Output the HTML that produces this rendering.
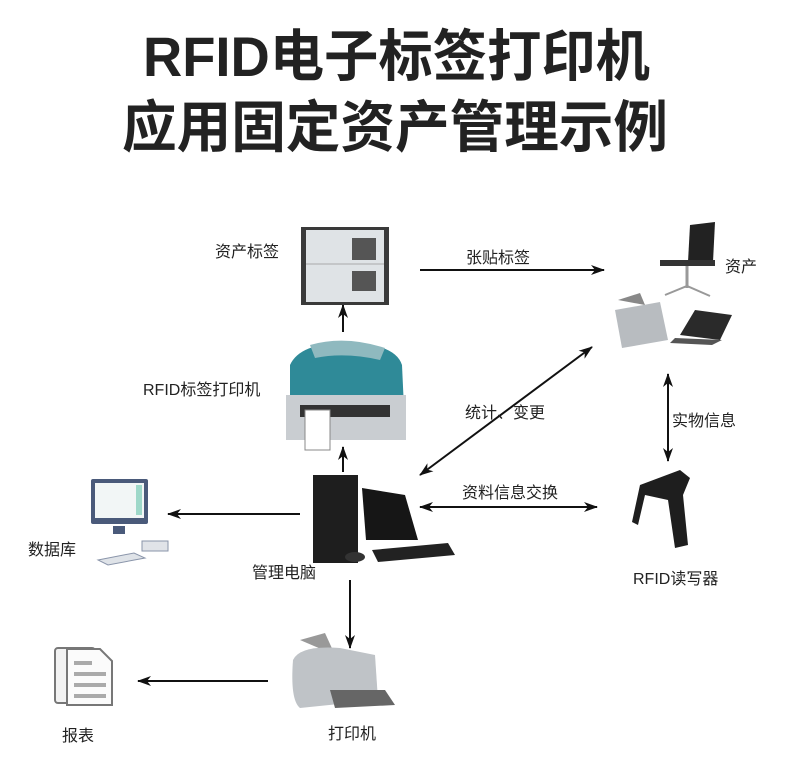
<!DOCTYPE html>
<html><head><meta charset="utf-8"><style>
html,body{margin:0;padding:0;background:#fff;}
svg{display:block}
text{font-family:"Liberation Sans","Noto Sans CJK SC",sans-serif;fill:#222}
</style></head><body>
<svg width="790" height="770" viewBox="0 0 790 770" xmlns="http://www.w3.org/2000/svg">
<defs>
<marker id="a" markerWidth="14" markerHeight="10" refX="13" refY="5" orient="auto-start-reverse" markerUnits="userSpaceOnUse">
<path d="M0,0 L14,5 L0,10 L4,5 Z" fill="#111"/></marker>
</defs>
<text x="143" y="76" font-size="56" font-weight="bold" textLength="507" lengthAdjust="spacingAndGlyphs" fill="#2a2a2a">RFID电子标签打印机</text>
<text x="122" y="147" font-size="56" font-weight="bold" textLength="546" lengthAdjust="spacingAndGlyphs" fill="#2a2a2a">应用固定资产管理示例</text>

<g stroke="#111" stroke-width="2" fill="none">
<line x1="343" y1="332" x2="343" y2="305" marker-end="url(#a)"/>
<line x1="420" y1="270" x2="604" y2="270" marker-end="url(#a)"/>
<line x1="420" y1="475" x2="592" y2="347" marker-start="url(#a)" marker-end="url(#a)"/>
<line x1="668" y1="374" x2="668" y2="461" marker-start="url(#a)" marker-end="url(#a)"/>
<line x1="420" y1="507" x2="597" y2="507" marker-start="url(#a)" marker-end="url(#a)"/>
<line x1="343" y1="472" x2="343" y2="447" marker-end="url(#a)"/>
<line x1="300" y1="514" x2="168" y2="514" marker-end="url(#a)"/>
<line x1="350" y1="580" x2="350" y2="648" marker-end="url(#a)"/>
<line x1="268" y1="681" x2="138" y2="681" marker-end="url(#a)"/>
</g>

<rect x="301" y="227" width="88" height="78" fill="#3a3a3a"/>
<rect x="306" y="230" width="78" height="72" fill="#dfe3e6"/>
<rect x="352" y="238" width="24" height="22" fill="#555"/>
<rect x="352" y="271" width="24" height="20" fill="#555"/>
<line x1="306" y1="264" x2="384" y2="264" stroke="#aaa"/>

<path d="M290 365 Q300 343 345 343 Q395 343 402 365 L405 430 L290 430 Z" fill="#2f8a98"/>
<path d="M310 345 Q345 335 385 348 L380 360 Q345 352 315 358 Z" fill="#8fb9bf"/>
<rect x="286" y="395" width="120" height="45" fill="#c9cdd1"/>
<rect x="300" y="405" width="90" height="12" fill="#333"/>
<rect x="305" y="410" width="25" height="40" fill="#fff" stroke="#888"/>

<path d="M690 225 L715 222 L713 262 L688 262 Z" fill="#222"/>
<rect x="660" y="260" width="55" height="6" fill="#333"/>
<line x1="687" y1="266" x2="687" y2="288" stroke="#999" stroke-width="3"/>
<path d="M665 295 L687 286 L710 296" stroke="#999" stroke-width="2" fill="none"/>
<path d="M615 310 L660 302 L668 340 L622 348 Z" fill="#b8bcc0"/>
<path d="M618 300 L640 293 L645 305 Z" fill="#888"/>
<path d="M680 335 L695 310 L732 315 L720 340 Z" fill="#2a2a2a"/>
<path d="M675 338 L722 340 L712 345 L670 343 Z" fill="#555"/>

<rect x="313" y="475" width="45" height="88" fill="#1e1e1e"/>
<path d="M362 488 L405 495 L418 540 L366 540 Z" fill="#161616"/>
<path d="M372 550 L448 543 L455 555 L378 562 Z" fill="#222"/>
<ellipse cx="355" cy="557" rx="10" ry="5" fill="#333"/>

<rect x="91" y="479" width="57" height="45" fill="#4a5a7a" rx="2"/>
<rect x="95" y="483" width="49" height="35" fill="#f2f6f6"/>
<rect x="136" y="485" width="6" height="30" fill="#9ed8c9"/>
<rect x="113" y="526" width="12" height="8" fill="#4a5a7a"/>
<path d="M98 560 L134 553 L145 558 L108 565 Z" fill="#dfe3e8" stroke="#8a95aa"/>
<rect x="142" y="541" width="26" height="10" fill="#e0e3e8" stroke="#8a95aa"/>

<path d="M640 485 L680 470 L690 478 L683 495 L688 545 L675 548 L668 500 L645 495 L638 525 L632 522 Z" fill="#1e1e1e"/>

<rect x="55" y="648" width="40" height="55" rx="3" fill="#f2f2f2" stroke="#777" stroke-width="2"/>
<path d="M67 649 L100 649 L112 661 L112 705 L67 705 Z" fill="#fbfbfb" stroke="#777" stroke-width="2"/>
<g stroke="#aaa" stroke-width="4"><line x1="74" y1="663" x2="92" y2="663"/><line x1="74" y1="674" x2="106" y2="674"/><line x1="74" y1="685" x2="106" y2="685"/><line x1="74" y1="696" x2="106" y2="696"/></g>

<path d="M300 640 L325 633 L335 655 Z" fill="#999"/>
<path d="M293 660 Q300 645 340 648 L375 655 L378 700 L300 708 Q290 700 293 660 Z" fill="#bfc3c7"/>
<path d="M330 690 L385 690 L395 705 L335 708 Z" fill="#666"/>

<g font-size="16">
<text x="215" y="257">资产标签</text>
<text x="466" y="263">张贴标签</text>
<text x="725" y="272">资产</text>
<text x="143" y="395">RFID标签打印机</text>
<text x="465" y="418">统计、变更</text>
<text x="672" y="426">实物信息</text>
<text x="462" y="498">资料信息交换</text>
<text x="28" y="555">数据库</text>
<text x="252" y="578">管理电脑</text>
<text x="633" y="584">RFID读写器</text>
<text x="62" y="741">报表</text>
<text x="328" y="739">打印机</text>
</g>
</svg>
</body></html>
